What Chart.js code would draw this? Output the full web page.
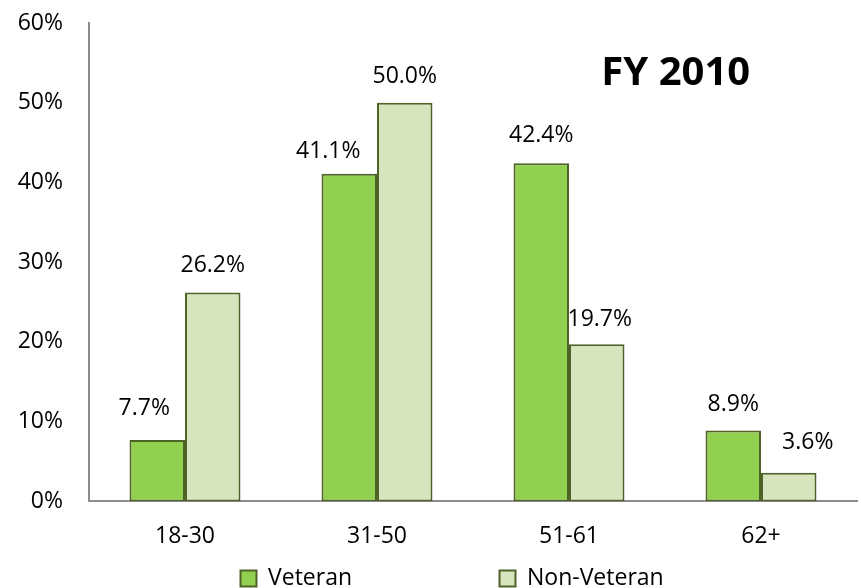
<!DOCTYPE html>
<html>
<head>
<meta charset="utf-8">
<script src="https://cdn.jsdelivr.net/npm/chart.js@4"></script>
<style>
  html, body { margin: 0; padding: 0; background: #fff; }
</style>
</head>
<body>
<canvas id="ageChart" width="861" height="588"></canvas>
<script>
// age groups and shares (percent)
const ageGroups = ["18-30", "31-50", "51-61", "62+"];
const veteranPct = [7.7, 41.1, 42.4, 8.9];
const nonVeteranPct = [26.2, 50.0, 19.7, 3.6];
const yTicks = [0, 10, 20, 30, 40, 50, 60];
const seriesNames = ["Veteran", "Non-Veteran"];
const chartTitle = "FY 2010";

// some value labels were nudged by hand in the original
const labelNudge = [
  [[-13, -5], [-21, 5], [0, -1], [0, 1]],
  [[0, 0], [0, 1], [3, 2], [19, -3]]
];

const FONT = "'Open Sans', 'Liberation Sans', sans-serif";
const BORDER = "#4F6228";

// draws the percentage above each bar
const barLabels = {
  id: "barLabels",
  afterDatasetsDraw(chart) {
    const ctx = chart.ctx;
    ctx.save();
    ctx.font = "23px " + FONT;
    ctx.fillStyle = "#000";
    ctx.textAlign = "center";
    ctx.textBaseline = "middle";
    chart.data.datasets.forEach((ds, i) => {
      chart.getDatasetMeta(i).data.forEach((bar, j) => {
        const n = labelNudge[i][j];
        ctx.fillText(ds.data[j].toFixed(1) + "%", bar.x + n[0], bar.y - 27 + n[1]);
      });
    });
    ctx.restore();
  }
};

// the big "FY 2010" caption inside the plot
const cornerTitle = {
  id: "cornerTitle",
  afterDraw(chart) {
    const a = chart.chartArea;
    const ctx = chart.ctx;
    ctx.save();
    ctx.font = "bold 40px " + FONT;
    ctx.fillStyle = "#000";
    ctx.textAlign = "center";
    ctx.textBaseline = "middle";
    ctx.fillText(chartTitle, a.left + (a.right - a.left) * 0.764, a.top + (a.bottom - a.top) * 0.105);
    ctx.restore();
  }
};

const ctx = document.getElementById("ageChart").getContext("2d");
new Chart(ctx, {
  type: "bar",
  data: {
    labels: ageGroups,
    datasets: [
      {
        label: seriesNames[0],
        data: veteranPct,
        backgroundColor: "#92D050",
        borderColor: BORDER,
        borderWidth: 2,
        borderSkipped: false,
        categoryPercentage: 0.578,
        barPercentage: 1.0
      },
      {
        label: seriesNames[1],
        data: nonVeteranPct,
        backgroundColor: "#D7E4BD",
        borderColor: BORDER,
        borderWidth: 2,
        borderSkipped: false,
        categoryPercentage: 0.578,
        barPercentage: 1.0
      }
    ]
  },
  options: {
    responsive: false,
    animation: false,
    layout: { padding: { left: 10, right: 4, top: 23, bottom: -12 } },
    scales: {
      x: {
        afterFit(scale) {
          scale.height = scale.height - 26;
        },
        grid: { display: false, drawTicks: false },
        border: { display: true, color: "#8C8C8C", width: 2 },
        ticks: { color: "#000", font: { family: FONT, size: 23 }, padding: 21 }
      },
      y: {
        min: 0,
        max: 60,
        afterBuildTicks(scale) {
          scale.ticks = yTicks.map(v => ({ value: v }));
        },
        afterFit(scale) {
          scale.width = 79;
          scale.paddingTop = 0;
          scale.paddingBottom = 0;
        },
        grid: { display: false, drawTicks: false },
        border: { display: true, color: "#8C8C8C", width: 2 },
        ticks: {
          color: "#000",
          font: { family: FONT, size: 23 },
          padding: 26,
          callback: v => v + "%"
        }
      }
    },
    plugins: {
      tooltip: { enabled: false },
      legend: {
        position: "bottom",
        fullSize: false,
        labels: {
          color: "#000",
          font: { family: FONT, size: 23 },
          boxWidth: 16,
          boxHeight: 16,
          padding: 22,
          generateLabels(chart) {
            return chart.data.datasets.map((ds, i) => ({
              // trailing spaces set the gap and centring of the two entries
              text: ds.label + " ".repeat(i === 0 ? 21 : 7),
              fillStyle: ds.backgroundColor,
              strokeStyle: BORDER,
              lineWidth: 2,
              fontColor: "#000",
              datasetIndex: i
            }));
          }
        }
      }
    }
  },
  plugins: [barLabels, cornerTitle]
});
</script>
</body>
</html>
